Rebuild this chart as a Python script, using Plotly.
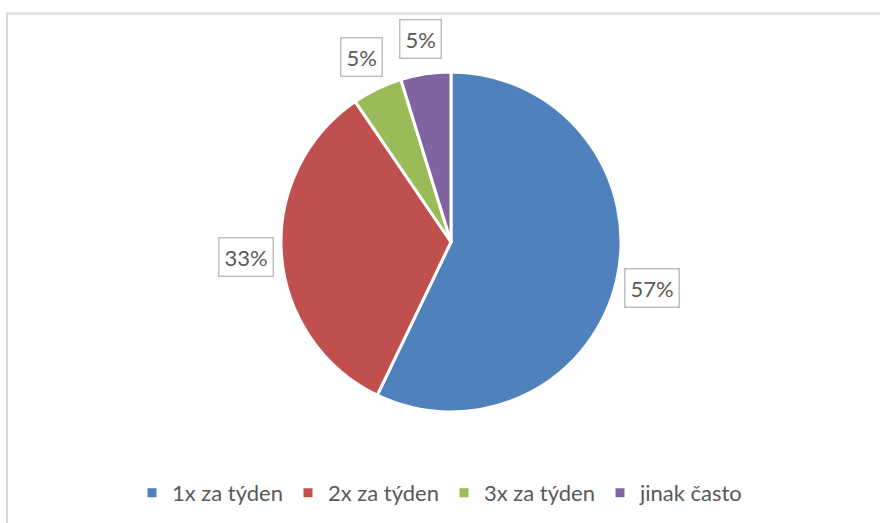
import math
import plotly.graph_objects as go

categories = ["1x za týden", "2x za týden", "3x za týden", "jinak často"]
values = [12, 7, 1, 1]
colors = ["#4F81BD", "#C0504D", "#9BBB59", "#8064A2"]

W, H = 880, 523
cx, cy, r = 451, 242, 170  # pie centre and radius in pixels
FONT = "Lato, 'Open Sans', sans-serif"

fig = go.Figure(go.Pie(
    labels=categories,
    values=values,
    sort=False,
    direction="clockwise",
    rotation=0,
    textinfo="none",
    hoverinfo="label+percent",
    marker=dict(colors=colors, line=dict(color="white", width=3)),
    domain=dict(x=[(cx - r) / W, (cx + r) / W], y=[1 - (cy + r) / H, 1 - (cy - r) / H]),
))

# data labels in boxes, positioned from the slice mid-angles
total = sum(values)
cum = 0
annotations = []
for v in values:
    frac = v / total
    mid = (cum + frac / 2) * 2 * math.pi
    cum += frac
    dist = r * 1.21
    px = cx + dist * math.sin(mid)
    py = cy - dist * math.cos(mid)
    annotations.append(dict(
        x=px / W, y=1 - py / H, xref="paper", yref="paper",
        text=f"{round(frac * 100)}%", showarrow=False,
        font=dict(family=FONT, size=22, color="#595959"),
        bordercolor="#BFBFBF", borderwidth=1.5, borderpad=5, bgcolor="white",
        xanchor="center", yanchor="middle",
    ))

fig.update_layout(
    width=W, height=H,
    margin=dict(l=0, r=0, t=0, b=0),
    paper_bgcolor="white",
    showlegend=True,
    legend=dict(
        orientation="h", x=0.5, xanchor="center", y=1 - 493 / H, yanchor="middle",
        font=dict(family=FONT, size=22, color="#595959"),
        traceorder="normal",
    ),
    annotations=annotations,
    shapes=[dict(
        type="rect", xref="paper", yref="paper",
        x0=7 / W, x1=1.02, y0=-0.02, y1=1 - 13.5 / H,
        line=dict(color="#D9D9D9", width=2), fillcolor="rgba(0,0,0,0)",
    )],
)

fig.write_html(
    "out.html",
    config={"displayModeBar": False},
    post_script="document.body.style.margin='0';document.body.style.overflow='hidden';",
)
